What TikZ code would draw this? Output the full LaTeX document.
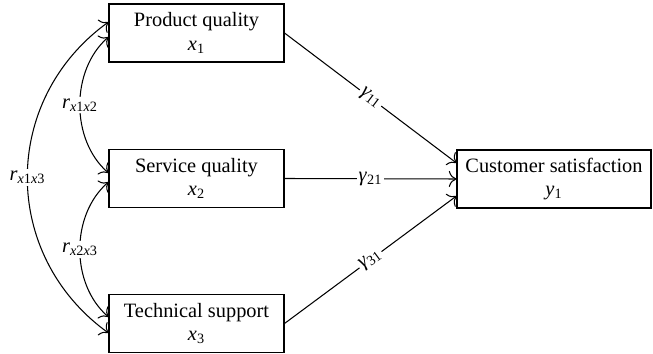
\documentclass[tikz,border=0pt]{standalone}
\usepackage{fontspec}
\setmainfont{Liberation Serif}
\usetikzlibrary{arrows.meta}
\newcommand{\vx}[1]{\textit{x}\textsubscript{#1}}
\newcommand{\corr}[2]{\textit{r}\textsubscript{\textit{x}#1\textit{x}#2}}
\newcommand{\gam}[1]{\textit{γ}\textsubscript{#1}}
\tikzset{
  var/.style={draw, line width=0.6pt, minimum width=3.5cm, minimum height=1.16cm,
    inner sep=0pt, align=center, font=\fontsize{11.6}{13.4}\selectfont},
  coef/.style={fill=white, inner sep=1pt, font=\fontsize{11.6}{13.4}\selectfont},
  path/.style={->, line width=0.6pt},
  >={To[scale=1.5]}
}
\begin{document}
\begin{tikzpicture}[x=0.02cm, y=-0.02cm]
      \useasboundingbox (0,0) rectangle (653,354);
      \node[var] (pq) at (196.5,33) {Product quality\\ \vx{1}};
      \node[var] (sq) at (196.5,178.5) {Service quality\\ \vx{2}};
      \node[var] (ts) at (196.5,323.5) {Technical support\\ \vx{3}};
      \node[var, minimum width=3.88cm] (cs) at (554,179) {Customer satisfaction\\ \textit{y}\textsubscript{1}};
      \draw[path] (pq.east) -- node[coef, sloped] {\gam{11}} ([yshift=0.32cm]cs.west);
      \draw[path] (sq.east) -- node[coef] {\gam{21}} (cs.west);
      \draw[path] (ts.east) -- node[coef, sloped] {\gam{31}} ([yshift=-0.34cm]cs.west);
      \draw[path, <->] ([yshift=-0.08cm]pq.west) .. controls +(-38,33) and +(-38,-33) ..
        node[coef] {\corr{1}{2}} ([yshift=0.11cm]sq.west);
      \draw[path, <->] ([yshift=-0.07cm]sq.west) .. controls +(-38,33) and +(-38,-33) ..
        node[coef] {\corr{2}{3}} ([yshift=0.13cm]ts.west);
      \draw[path, <->] ([yshift=0.22cm]pq.west) .. controls +(-108,78) and +(-108,-78) ..
        node[coef] {\corr{1}{3}} ([yshift=-0.19cm]ts.west);
\end{tikzpicture}
\end{document}
